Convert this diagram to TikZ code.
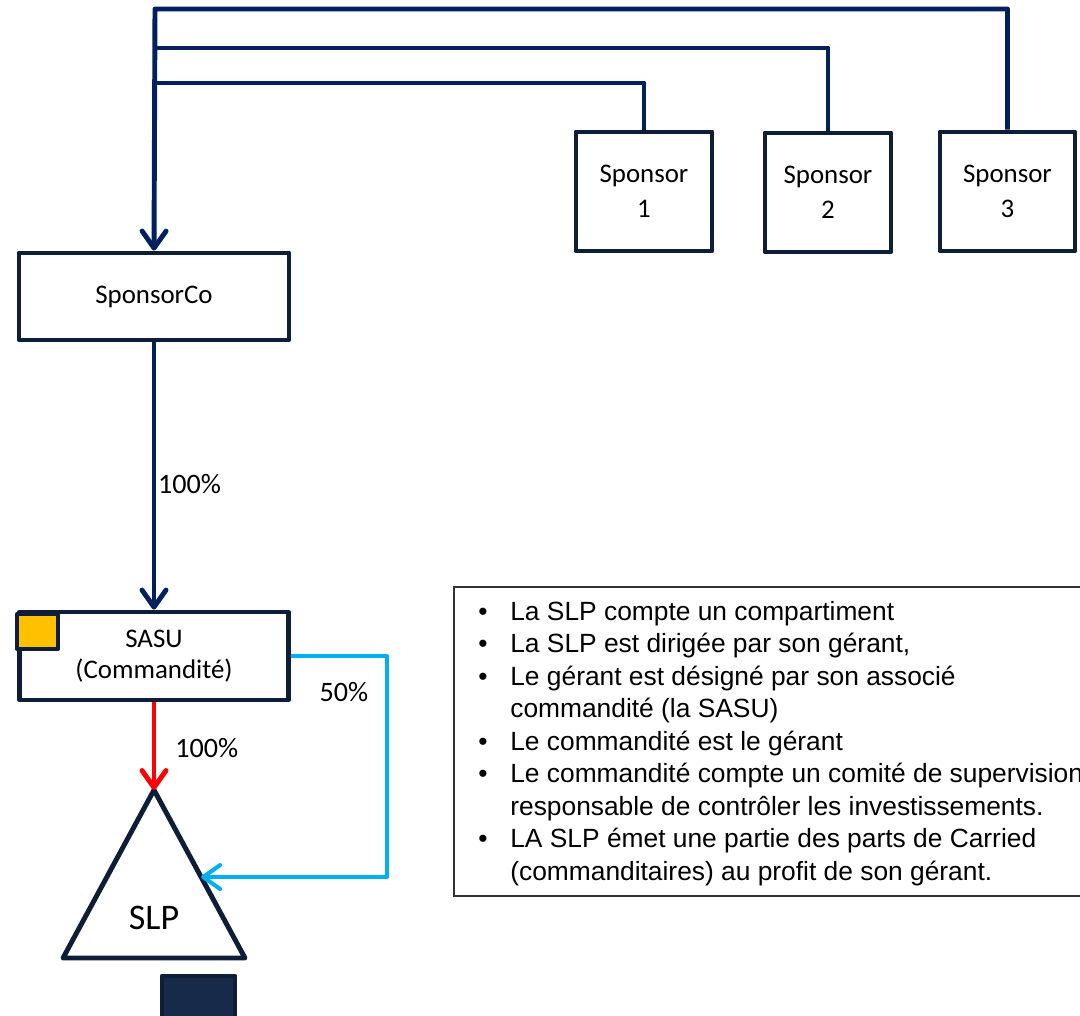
\documentclass[tikz,border=0pt]{standalone}
\usepackage{fontspec}
\setmainfont{Carlito}
\newfontfamily\notesfont{Liberation Sans}
\usetikzlibrary{arrows.meta,calc}

\definecolor{navy}{HTML}{002060}
\definecolor{boxline}{HTML}{0F1E38}
\definecolor{darkfill}{HTML}{172A4A}
\definecolor{gold}{HTML}{FFC000}
\definecolor{sky}{HTML}{00B0F0}
\definecolor{redline}{HTML}{FF0000}

\newcommand{\bul}{\makebox[0.64cm][l]{\textbullet}}
\newcommand{\ind}{\hspace*{0.64cm}}

\begin{document}
\begin{tikzpicture}[x=0.02cm,y=-0.02cm,
  entity/.style={draw=boxline, line width=2.8pt, line join=round, fill=white,
    align=center, inner sep=0pt, font=\fontsize{15.3}{19.8}\selectfont},
  tip/.style={-{Straight Barb[length=3.4mm,width=4.8mm,round]}},
  owner/.style={draw=navy, line width=2.8pt, line join=round},
  pct/.style={inner sep=0pt, font=\fontsize{16}{19}\selectfont}]

\useasboundingbox (0,0) rectangle (1080,1016);

% sponsors
\node[entity, minimum width=2.72cm, minimum height=2.38cm] (s1) at (644,191.5) {Sponsor\\1};
\node[entity, minimum width=2.52cm, minimum height=2.38cm] (s2) at (828,192.5) {Sponsor\\2};
\node[entity, minimum width=2.70cm, minimum height=2.38cm] (s3) at (1007.5,191.5) {Sponsor\\3};

% holding and general partner
\node[entity, minimum width=5.4cm, minimum height=1.74cm] (sco) at (154,296.5) {SponsorCo};
\node[entity, minimum width=5.38cm, minimum height=1.76cm,
  font=\fontsize{15.3}{17.6}\selectfont] (sasu) at (154,656) {SASU\\(Commandité)};
\node[draw=boxline, line width=2.3pt, line join=round, fill=gold, minimum width=0.82cm,
  minimum height=0.70cm, inner sep=0pt] (flag) at (37.5,631.5) {};

% sponsor links into SponsorCo
\coordinate (top) at (155,9);
\coordinate (j2) at (155,48);
\coordinate (j1) at (155,83);
\draw[owner] (s1.north) |- (j1);
\draw[owner] (s2.north) |- (j2);
\draw[owner, tip] (s3.north) |- (top) -- (sco.north);

% SponsorCo -> SASU
\draw[owner, tip] (sco.south) -- (sasu.north)
  node[pct, pos=0.53, anchor=west, xshift=1pt] (p1) {100\%};

% the SLP triangle
\coordinate (apex) at (154,790);
\coordinate (bl) at (63,958);
\coordinate (br) at (245,958);
\draw[boxline, line width=2.8pt, line join=round, fill=white] (apex) -- (br) -- (bl) -- cycle;
\node[inner sep=0pt, font=\fontsize{20.5}{24}\selectfont] (slp) at (154,918) {SLP};
\coordinate (slpedge) at ($(apex)!0.518!(br)$);

% SASU -> SLP
\draw[redline, line width=2.8pt, tip] (sasu.south) -- (apex);
\node[pct, anchor=west] (p2) at (175,748) {100\%};

\coordinate (bturn) at (387,656);
\draw[sky, line width=2.3pt, line join=round, tip] (sasu.east) -- (bturn) |- (slpedge);
\node[pct] (p3) at (344,692) {50\%};

% dark block below the triangle
\draw[boxline, line width=2.6pt, line join=round, fill=darkfill] (162,976) rectangle (235,1040);

% notes
\draw[black!80, line width=0.8pt] (454,587) rectangle (1100,896);
\node[anchor=north west, align=left, inner sep=0pt,
  font=\notesfont\fontsize{15}{18.5}\selectfont] (notes) at (478,601)
{\bul La SLP compte un compartiment\\
 \bul La SLP est dirigée par son gérant,\\
 \bul Le gérant est désigné par son associé\\
 \ind commandité (la SASU)\\
 \bul Le commandité est le gérant\\
 \bul Le commandité compte un comité de supervision\\
 \ind responsable de contrôler les investissements.\\
 \bul LA SLP émet une partie des parts de Carried\\
 \ind (commanditaires) au profit de son gérant.};

\end{tikzpicture}
\end{document}
